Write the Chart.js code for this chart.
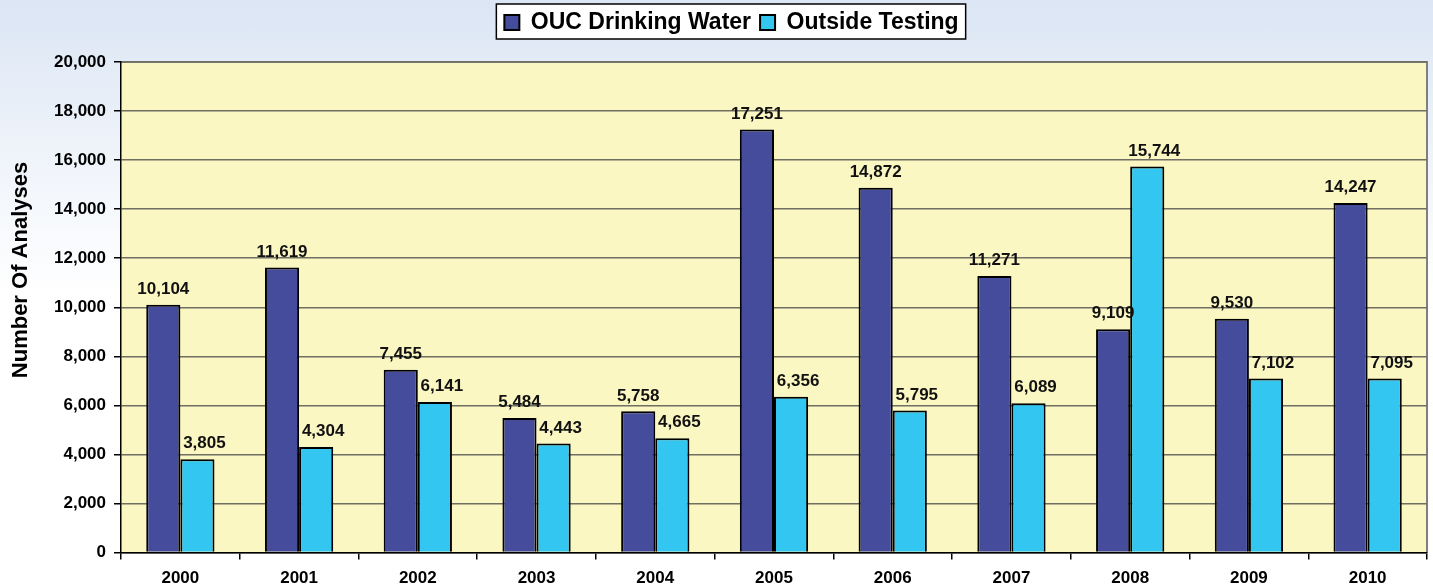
<!DOCTYPE html>
<html>
<head>
<meta charset="utf-8">
<script src="https://cdn.jsdelivr.net/npm/chart.js@4.4.1/dist/chart.umd.min.js"></script>
<style>
  html, body { margin: 0; padding: 0; }
  body {
    width: 1433px; height: 588px; overflow: hidden;
    background: linear-gradient(to bottom, #dbe5f4 0%, #eef3fa 25%, #ffffff 50%, #ffffff 100%);
  }
  #wrap { position: relative; width: 1433px; height: 588px; }
</style>
</head>
<body>
<div id="wrap"><canvas id="analysisChart"></canvas></div>
<script>
// Chart data
const years = ['2000', '2001', '2002', '2003', '2004', '2005', '2006', '2007', '2008', '2009', '2010'];
const oucDrinkingWater = [10104, 11619, 7455, 5484, 5758, 17251, 14872, 11271, 9109, 9530, 14247];
const outsideTesting = [3805, 4304, 6141, 4443, 4665, 6356, 5795, 6089, 15744, 7102, 7095];
const yTicks = [0, 2000, 4000, 6000, 8000, 10000, 12000, 14000, 16000, 18000, 20000];
const yTitle = 'Number Of Analyses';

const FONT = 'Liberation Sans, Arial, Helvetica, sans-serif';
const fmt = v => Number(v).toLocaleString('en-US');

// Yellow plot area with grey top/right frame
const plotArea = {
    id: 'plotArea',
    beforeDraw(chart) {
        const { ctx, chartArea: a } = chart;
        ctx.save();
        ctx.fillStyle = '#fbf7c3';
        ctx.fillRect(a.left, a.top, a.right - a.left, a.bottom - a.top);
        ctx.strokeStyle = '#7f7f7f';
        ctx.lineWidth = 2;
        ctx.beginPath();
        ctx.moveTo(a.left, a.top);
        ctx.lineTo(a.right, a.top);
        ctx.lineTo(a.right, a.bottom);
        ctx.stroke();
        ctx.restore();
    },
    afterDraw(chart) {
        // axis title sits a bit above the plot centre, as in the original
        const { ctx } = chart;
        ctx.save();
        ctx.translate(21, 270);
        ctx.rotate(-Math.PI / 2);
        ctx.font = 'bold 22px ' + FONT;
        ctx.fillStyle = '#000000';
        ctx.textAlign = 'center';
        ctx.textBaseline = 'middle';
        ctx.fillText(yTitle, 0, 0);
        ctx.restore();
    }
};

// Extra room below the legend, plus white framed box behind it
const legendBox = {
    id: 'legendBox',
    beforeInit(chart) {
        const fit = chart.legend.fit;
        chart.legend.fit = function () {
            fit.bind(chart.legend)();
            this.height += 18;
        };
    },
    beforeDraw(chart) {
        const boxes = chart.legend.legendHitBoxes;
        if (!boxes || !boxes.length) return;
        const left = Math.min(...boxes.map(b => b.left)) - 8;
        const right = Math.max(...boxes.map(b => b.left + b.width)) + 7;
        const top = boxes[0].top - 7;
        const h = boxes[0].height + 12;
        const { ctx } = chart;
        ctx.save();
        ctx.fillStyle = '#ffffff';
        ctx.fillRect(left, top, right - left, h);
        ctx.strokeStyle = '#000000';
        ctx.lineWidth = 1.5;
        ctx.strokeRect(left, top, right - left, h);
        ctx.restore();
    }
};

// Value labels above each bar
const valueLabels = {
    id: 'valueLabels',
    afterDatasetsDraw(chart) {
        const { ctx } = chart;
        ctx.save();
        ctx.font = 'bold 17px ' + FONT;
        ctx.fillStyle = '#111111';
        ctx.textAlign = 'center';
        ctx.textBaseline = 'bottom';
        chart.data.datasets.forEach((ds, i) => {
            const shift = i === 1 ? 7 : 0;
            chart.getDatasetMeta(i).data.forEach((bar, j) => {
                ctx.fillText(fmt(ds.data[j]), bar.x + shift, bar.y - 7);
            });
        });
        ctx.restore();
    }
};

const ctx = document.getElementById('analysisChart').getContext('2d');
new Chart(ctx, {
    type: 'bar',
    data: {
        labels: years,
        datasets: [
            {
                label: 'OUC Drinking Water',
                data: oucDrinkingWater,
                backgroundColor: '#464c9c',
                borderColor: '#000000',
                borderWidth: 2
            },
            {
                label: 'Outside Testing',
                data: outsideTesting,
                backgroundColor: '#33c6f0',
                borderColor: '#000000',
                borderWidth: 2
            }
        ]
    },
    options: {
        responsive: true,
        maintainAspectRatio: false,
        animation: false,
        layout: { padding: { top: 2, left: 36, right: 6, bottom: -10 } },
        datasets: {
            bar: { barPercentage: 1, categoryPercentage: 0.575 }
        },
        plugins: {
            legend: {
                position: 'top',
                labels: {
                    boxWidth: 15,
                    boxHeight: 15,
                    padding: 9,
                    color: '#000000',
                    font: { family: FONT, size: 23, weight: 'bold' }
                }
            },
            tooltip: { enabled: false }
        },
        scales: {
            x: {
                grid: {
                    drawOnChartArea: false,
                    drawTicks: true,
                    tickLength: 7,
                    tickColor: '#000000',
                    lineWidth: 1.5
                },
                border: { color: '#000000', width: 1.5 },
                ticks: {
                    color: '#000000',
                    padding: 9,
                    font: { family: FONT, size: 17, weight: 'bold' }
                }
            },
            y: {
                min: 0,
                max: 20000,
                afterBuildTicks(axis) {
                    axis.ticks = yTicks.map(v => ({ value: v }));
                },
                afterFit(axis) {
                    axis.width = 85;
                },
                grid: {
                    color: '#6f6f62',
                    lineWidth: 1.5,
                    tickLength: 7,
                    tickColor: '#000000'
                },
                border: { color: '#000000', width: 1.5 },
                ticks: {
                    color: '#000000',
                    padding: 8,
                    font: { family: FONT, size: 17, weight: 'bold' },
                    callback: v => fmt(v)
                },
                title: { display: false }
            }
        }
    },
    plugins: [plotArea, legendBox, valueLabels]
});
</script>
</body>
</html>
